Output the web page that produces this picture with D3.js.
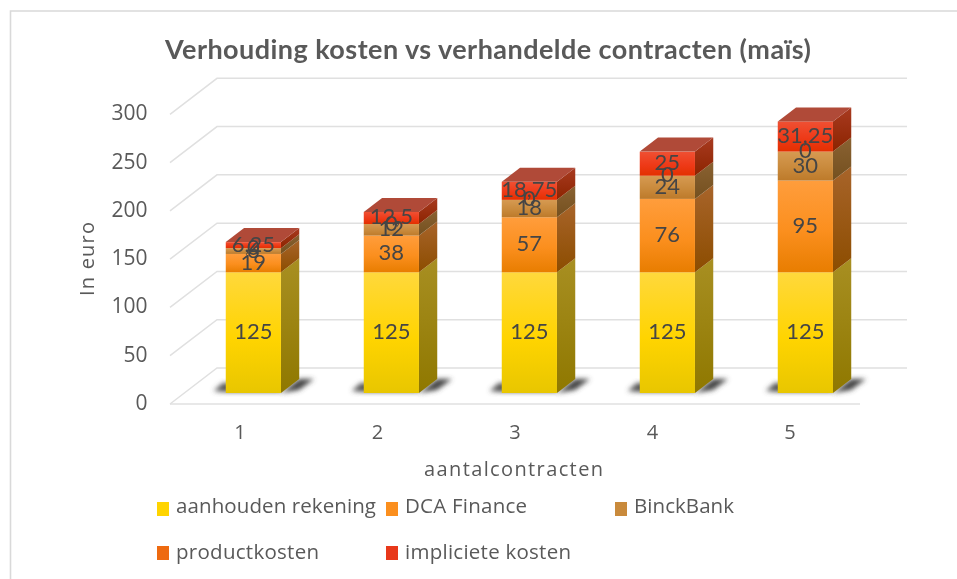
<!DOCTYPE html>
<html><head><meta charset="utf-8">
<script src="https://cdn.jsdelivr.net/npm/d3@7/dist/d3.min.js"></script>
<style>html,body{margin:0;padding:0;background:#fff}svg{display:block;filter:blur(0.55px)}text{font-family:"Open Sans",sans-serif;fill:#595959}</style>
</head><body><svg id="c" width="957" height="579"></svg>
<script>
const categories=["1","2","3","4","5"];
const seriesNames=["aanhouden rekening","DCA Finance","BinckBank","productkosten","impliciete kosten"];
const aanhouden=[125,125,125,125,125];
const dca=[19,38,57,76,95];
const binck=[6,12,18,24,30];
const product=[0,0,0,0,0];
const impliciet=[6.25,12.5,18.75,25,31.25];
const impliciteLabels=["6,25","12,5","18,75","25","31,25"];
const yTicks=[0,50,100,150,200,250,300];
const legendWidths=[200,122,100,143,166];
const colors=[
 {top:"#ffd83c",mid:"#ffd400",bot:"#e8c600",side1:"#a88f22",side2:"#8f7800",cap:"#a88f22"},
 {top:"#ff9d3c",mid:"#fb8f1e",bot:"#e87d00",side1:"#a8642a",side2:"#8c4d00",cap:"#a8642a"},
 {top:"#d69a52",mid:"#c98a3c",bot:"#bd7a2a",side1:"#8a6232",side2:"#74501f",cap:"#8a6232"},
 {top:"#f57a20",mid:"#ee6a10",bot:"#e05c00",side1:"#a04a10",side2:"#8a3c00",cap:"#a04a10"},
 {top:"#ef5033",mid:"#ee3a18",bot:"#e33000",side1:"#a83a20",side2:"#8c2400",cap:"#b04a38"}];
const legendColors=["#ffd400","#fb8f1e","#c98a3c","#ee6a10","#e8381a"];

const svg=d3.select("#c");
const defs=svg.append("defs");
const W=957,H=579;
svg.append("path").attr("d",`M10.5,${H}V11H${W}`).attr("fill","none").attr("stroke","#d9d9d9").attr("stroke-width",1.6);

const floorFront={x:170,y:404}, depth={x:47,y:-36};
const barNear=11/36, barFar=25/36;
const yS=d3.scaleLinear().domain([0,300]).range([0,-289.7]);
const xS=d3.scaleBand().domain(categories).range([floorFront.x,floorFront.x+690]).paddingInner(0.6).paddingOuter(0.3);
const xLabelS=d3.scalePoint().domain(categories).range([240,790]);
const P=(x,v,t)=>[x+depth.x*t, floorFront.y+depth.y*t+yS(v)];
const grid=svg.append("g").attr("fill","none").attr("stroke","#e0e0e0").attr("stroke-width",1.5);
yTicks.forEach(t=>{
  const a=P(floorFront.x,t,0),b=P(floorFront.x,t,1),c=P(floorFront.x+690,t,1);
  grid.append("path").attr("d",d3.line()([a,b,c]));
});
{const a=P(floorFront.x,0,0),b=P(floorFront.x+690,0,0);grid.append("path").attr("d",d3.line()([a,b]));}

// y tick labels
const yl=svg.append("g").attr("font-size",21).attr("text-anchor","end");
yTicks.forEach(t=>yl.append("text").attr("x",147.5).attr("y",P(0,t,0)[1]+6).text(t));
// x labels
svg.append("g").attr("font-size",20).attr("text-anchor","middle").selectAll("text").data(categories).join("text")
  .attr("x",d=>xLabelS(d)).attr("y",438.5).text(d=>d);

// shadows
const blur=defs.append("filter").attr("id","sh").attr("x","-50%").attr("y","-50%").attr("width","200%").attr("height","200%");blur.append("feGaussianBlur").attr("stdDeviation",2.6);
categories.forEach(c=>{
  const [x0,y0]=P(xS(c),0,barNear), w=xS.bandwidth();
  svg.append("path").attr("filter","url(#sh)").attr("fill","#555")
    .attr("d",`M${x0-12},${y0-2}L${x0-3},${y0-10}H${x0+w}V${y0-1}H${x0}Z`);
  svg.append("path").attr("filter","url(#sh)").attr("fill","#444")
    .attr("d",`M${x0+w},${y0}L${x0+w+18},${y0-14}H${x0+w+33}L${x0+w+18},${y0-3}Z`);
});

// gradients
colors.forEach((c,i)=>{
  const g=defs.append("linearGradient").attr("id","f"+i).attr("x1",0).attr("x2",0).attr("y1",0).attr("y2",1);
  g.append("stop").attr("offset",0).attr("stop-color",c.top);
  g.append("stop").attr("offset",.55).attr("stop-color",c.mid);
  g.append("stop").attr("offset",1).attr("stop-color",c.bot);
  const s=defs.append("linearGradient").attr("id","s"+i).attr("x1",0).attr("x2",0).attr("y1",0).attr("y2",1);
  s.append("stop").attr("offset",0).attr("stop-color",c.side1);
  s.append("stop").attr("offset",1).attr("stop-color",c.side2);
});

// stacks
const series=[aanhouden,dca,binck,product,impliciet];
const bars=svg.append("g"), lab=svg.append("g").attr("font-size",22).attr("text-anchor","middle");
categories.forEach((c,ci)=>{
  let acc=0, last=null;
  const x0=P(xS(c),0,barNear)[0], x1=x0+xS.bandwidth();
  const d=depth.x*(barFar-barNear), dy=depth.y*(barFar-barNear);
  const base=floorFront.y+depth.y*barNear;
  series.forEach((s,si)=>{
    const v=s[ci]; const yb=base+yS(acc), yt=base+yS(acc+v);
    if(v>0){
      bars.append("path").attr("fill",`url(#s${si})`).attr("d",`M${x1},${yb}L${x1+d},${yb+dy}V${yt+dy}L${x1},${yt}Z`);
      bars.append("rect").attr("x",x0).attr("y",yt).attr("width",x1-x0).attr("height",yb-yt).attr("fill",`url(#f${si})`);
      last=si;
    }
    lab.append("text").attr("x",(x0+x1)/2).attr("y",(yb+yt)/2+6.5).text(si==4?impliciteLabels[ci]:v).style("font-family","Lato").style("fill","#454545");
    acc+=v;
  });
  const yt=base+yS(acc);
  bars.append("path").attr("fill",colors[last].cap).attr("d",`M${x0},${yt}L${x0+d},${yt+dy}H${x1+d}L${x1},${yt}Z`);
});

// title + axis titles
svg.append("text").attr("x",165).attr("y",59).attr("font-size",27).attr("font-weight",700).style("font-family","Lato").attr("textLength",646).attr("lengthAdjust","spacing").text("Verhouding kosten vs verhandelde contracten (maïs)");
svg.append("text").attr("transform","translate(94,296) rotate(-90)").attr("font-size",20).attr("textLength",74).text("In euro");
svg.append("text").attr("x",424).attr("y",476).attr("font-size",20).attr("textLength",179).text("aantalcontracten");

// legend
const lx=[176,405,634,176,405], ly=[502,502,502,546,546], lBase=[513,513,513,558.5,558.5];
seriesNames.forEach((n,i)=>{
  svg.append("rect").attr("x",lx[i]-19).attr("y",ly[i]).attr("width",12).attr("height",14).attr("fill",legendColors[i]);
  svg.append("text").attr("x",lx[i]).attr("y",lBase[i]).attr("font-size",20.5).attr("textLength",legendWidths[i]).text(n);
});
</script></body></html>
